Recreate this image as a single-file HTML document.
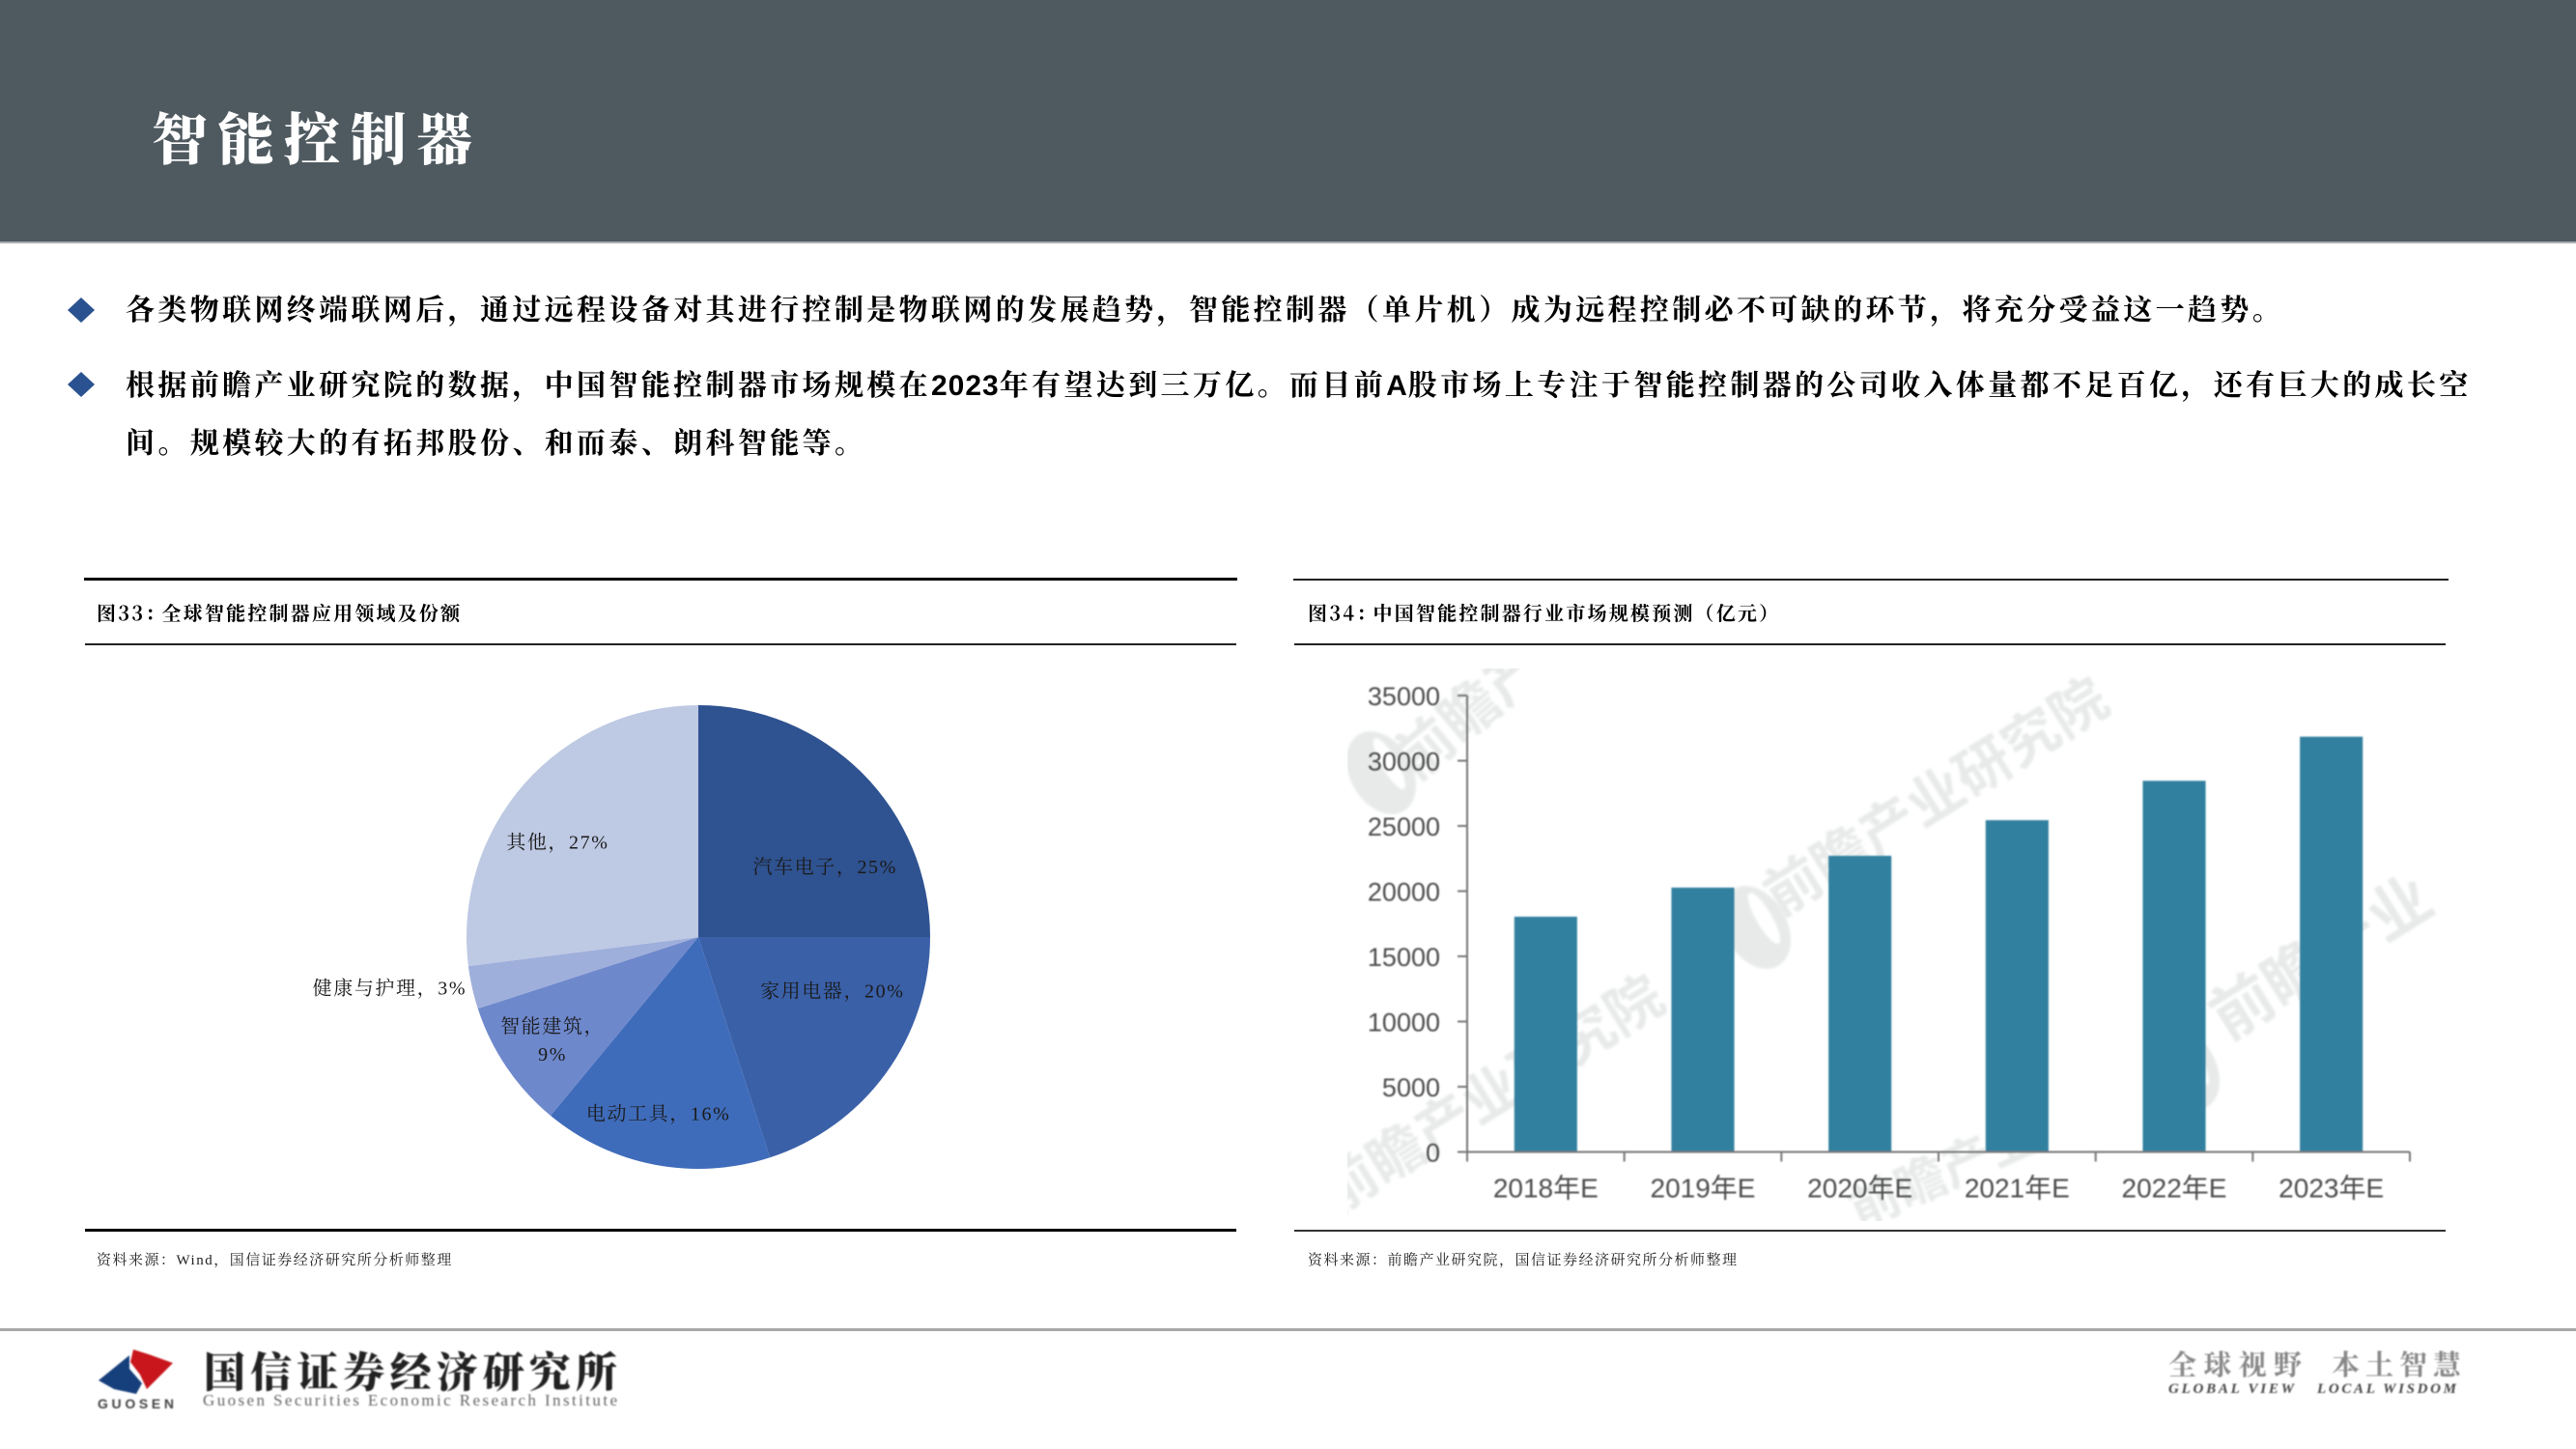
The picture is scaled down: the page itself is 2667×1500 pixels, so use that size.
<!DOCTYPE html>
<html lang="zh-CN">
<head>
<meta charset="utf-8">
<title>智能控制器</title>
<style>
html,body{margin:0;padding:0;background:#fff;}
#page{position:relative;width:2667px;height:1500px;overflow:hidden;background:#fff;font-family:"Liberation Serif","Noto Serif CJK SC",serif;color:#000;}
.abs{position:absolute;white-space:nowrap;line-height:1;}
.rule{position:absolute;background:#000;}
.body-line{font-size:30px;letter-spacing:3.36px;font-weight:700;font-family:"Noto Serif CJK SC",serif;}
.body-line b{font-family:"Liberation Sans",sans-serif;letter-spacing:1px;font-weight:700;}
.cap{font-size:20px;letter-spacing:2.2px;font-weight:700;font-family:"Noto Serif CJK SC",serif;}
.cap span{margin-right:-5px;}
.src{font-size:15px;letter-spacing:1.5px;color:#222;font-family:"Liberation Serif","Noto Serif CJK SC",serif;}
svg text{font-family:"Liberation Serif","Noto Serif CJK SC",serif;}
svg text.wm{font-family:"Noto Sans CJK SC",sans-serif;font-weight:700;}
</style>
</head>
<body>
<div id="page">
  <div class="abs" style="left:0;top:0;width:2667px;height:250px;background:#4f5a60;border-bottom:2px solid #a9aeb0;"></div>
  <div class="abs" style="left:157px;top:111px;font-size:58px;letter-spacing:10.5px;color:#fff;font-weight:900;font-family:'Noto Serif CJK SC',serif;">智能控制器</div>

  <svg class="abs" style="left:0;top:0" width="200" height="450">
    <polygon points="84,308 98,321 84,334 70,321" fill="#2a5290"/>
    <polygon points="84,385 98,398 84,411 70,398" fill="#2a5290"/>
  </svg>
  <div class="abs body-line" style="left:130px;top:303px;">各类物联网终端联网后，通过远程设备对其进行控制是物联网的发展趋势，智能控制器（单片机）成为远程控制必不可缺的环节，将充分受益这一趋势。</div>
  <div class="abs body-line" style="left:130px;top:381px;">根据前瞻产业研究院的数据，中国智能控制器市场规模在<b>2023</b>年有望达到三万亿。而目前<b>A</b>股市场上专注于智能控制器的公司收入体量都不足百亿，还有巨大的成长空</div>
  <div class="abs body-line" style="left:130px;top:441px;">间。规模较大的有拓邦股份、和而泰、朗科智能等。</div>

  <div class="rule" style="left:87px;top:598px;width:1194px;height:3px;"></div>
  <div class="abs cap" style="left:100px;top:624px;"><span>图33：</span>全球智能控制器应用领域及份额</div>
  <div class="rule" style="left:88px;top:666px;width:1192px;height:1.5px;background:#222;"></div>
  <svg class="abs" id="pie-chart" style="left:88px;top:670px" width="1190" height="600"></svg>
  <div class="rule" style="left:88px;top:1272px;width:1192px;height:2.5px;"></div>
  <div class="abs src" style="left:100px;top:1298px;">资料来源：Wind，国信证券经济研究所分析师整理</div>

  <div class="rule" style="left:1339px;top:599px;width:1196px;height:2px;background:#222;"></div>
  <div class="abs cap" style="left:1354px;top:624px;"><span>图34：</span>中国智能控制器行业市场规模预测（亿元）</div>
  <div class="rule" style="left:1340px;top:666px;width:1192px;height:1.5px;background:#222;"></div>
  <svg class="abs" id="bar-chart" style="left:1340px;top:670px" width="1192" height="600">
    <defs>
      <filter id="soft"><feGaussianBlur stdDeviation="0.7"/></filter>
      <filter id="softer"><feGaussianBlur stdDeviation="1.2"/></filter>
      <clipPath id="wm-clip"><rect x="55" y="22" width="1128" height="572"/></clipPath>
    </defs>
    <g clip-path="url(#wm-clip)"><g id="watermarks" fill="#e8eaea" filter="url(#softer)"></g></g>
    <g id="bar-marks" filter="url(#soft)"></g>
  </svg>
  <div class="rule" style="left:1340px;top:1273px;width:1192px;height:1.5px;background:#333;"></div>
  <div class="abs src" style="left:1354px;top:1298px;">资料来源：前瞻产业研究院，国信证券经济研究所分析师整理</div>

  <div class="abs" style="left:0;top:1375px;width:2667px;height:3px;background:#a8a8a8;"></div>
  <svg class="abs" style="left:0;top:1380px" width="700" height="100">
    <g filter="url(#soft)">
      <polygon points="134,23 102,49 118,58 141,63 147,52 134,37" fill="#123f7c"/>
      <polygon points="138,17 154,22 179,31 152,58 145,43 135,30" fill="#c8141f"/>
      <text x="101" y="78" font-size="14" font-weight="700" textLength="79" style="font-family:'Liberation Sans',sans-serif" fill="#444">GUOSEN</text>
      <text x="211" y="56" font-size="43" font-weight="900" textLength="428" fill="#222" style="font-family:'Noto Serif CJK SC',serif">国信证券经济研究所</text>
      <text x="210" y="75" font-size="17" textLength="429" fill="#666">Guosen Securities Economic Research Institute</text>
    </g>
  </svg>
  <svg class="abs" style="left:2200px;top:1390px" width="467" height="70">
    <g filter="url(#soft)">
      <text x="45" y="33" font-size="29" font-weight="700" textLength="138" fill="#888" style="font-family:'Noto Serif CJK SC',serif">全球视野</text>
      <text x="214" y="33" font-size="29" font-weight="700" textLength="134" fill="#888" style="font-family:'Noto Serif CJK SC',serif">本土智慧</text>
      <text x="45" y="52" font-size="15" font-weight="700" font-style="italic" textLength="130" fill="#444">GLOBAL VIEW</text>
      <text x="199" y="52" font-size="15" font-weight="700" font-style="italic" textLength="144" fill="#444">LOCAL WISDOM</text>
    </g>
  </svg>
</div>

<script>
var pieCategories = ['汽车电子', '家用电器', '电动工具', '智能建筑', '健康与护理', '其他'];
var pieValues = [25, 20, 16, 9, 3, 27];
var barCategories = ['2018年E', '2019年E', '2020年E', '2021年E', '2022年E', '2023年E'];
var barValues = [18040, 20270, 22710, 25440, 28460, 31840];
var yTickLabels = [0, 5000, 10000, 15000, 20000, 25000, 30000, 35000];

var SVG_NS = 'http://www.w3.org/2000/svg';
function mk(parent, tag, attrs, text) {
  var el = document.createElementNS(SVG_NS, tag);
  for (var k in attrs) el.setAttribute(k, attrs[k]);
  if (text !== undefined) el.textContent = text;
  parent.appendChild(el);
  return el;
}

/* Pie chart */
(function () {
  var svg = document.getElementById('pie-chart');
  var cx = 723 - 88, cy = 970 - 670, r = 240;
  var fills = ['#2f5290', '#3a60a8', '#3f6cba', '#6e88cc', '#9fafdb', '#bec9e3'];
  /* layout-only label nudges from the default anchor, per slice */
  var nudgeX = [9, -1, -9, -8, -151, -16];
  var nudgeY = [49, -46, 13, 9, 15, 16];
  var total = pieValues.reduce(function (a, b) { return a + b; }, 0);
  function angle(v) { return v / total * 2 * Math.PI; }
  function px(a, rad) { return cx + rad * Math.sin(a); }
  function py(a, rad) { return cy - rad * Math.cos(a); }
  var acc = 0;
  pieValues.forEach(function (v, i) {
    var a0 = angle(acc), a1 = angle(acc + v);
    var large = (a1 - a0) > Math.PI ? 1 : 0;
    var d = 'M' + cx + ' ' + cy + 'L' + px(a0, r) + ' ' + py(a0, r) +
      'A' + r + ' ' + r + ' 0 ' + large + ' 1 ' + px(a1, r) + ' ' + py(a1, r) + 'Z';
    var slice = mk(svg, 'path', { d: d, fill: fills[i % fills.length] });
    
    
    acc += v;
  });
  acc = 0;
  pieValues.forEach(function (v, i) {
    var mid = angle(acc + v / 2);
    var lx = px(mid, r * 0.72) + nudgeX[i], ly = py(mid, r * 0.72) + nudgeY[i];
    acc += v;
    var wrap = pieCategories[i].length === 4 && i === 3;
    var attrs = { 'text-anchor': 'middle', 'font-size': 20, fill: '#1a1a1a', 'letter-spacing': 1.6, x: lx };
    var pct = v + '%';
    if (wrap) {
      var l1 = mk(svg, 'text', Object.assign({ y: ly - 7 }, attrs), pieCategories[i] + '，');
      
      
      var l2 = mk(svg, 'text', Object.assign({ y: ly + 22 }, attrs), pct);
      
      
    } else {
      var t = mk(svg, 'text', Object.assign({ y: ly + 7 }, attrs), pieCategories[i] + '，' + pct);
      
      
    }
  });
})();

/* Bar chart */
(function () {
  var g = document.getElementById('bar-marks');
  var wm = document.getElementById('watermarks');
  var ox = 1340, oy = 670;
  var x0 = 1519 - ox, x1 = 2495 - ox, y0 = 1192.5 - oy, yTop = 720 - oy;
  var yMax = yTickLabels[yTickLabels.length - 1];
  function yScale(v) { return y0 - (v / yMax) * (y0 - yTop); }
  var band = (x1 - x0) / barCategories.length;
  function xCenter(i) { return x0 + band * (i + 0.5); }
  var barWidth = band * 0.4;

  /* Watermarks: decorative background text */
  var marks = [
    ['前瞻产', 195, 82, -40, 60],
    ['前瞻产业研究院', 675, 172, -32, 58],
    ['前瞻产业研究院', 215, 480, -32, 58],
    ['前瞻产业', 1075, 340, -32, 64],
    ['前瞻产业', 680, 560, -24, 52]
  ];
  marks.forEach(function (m, i) {
    var t = mk(wm, 'text', { 'class': 'wm', 'text-anchor': 'middle', 'font-size': m[4], transform: 'translate(' + m[1] + ',' + m[2] + ') rotate(' + m[3] + ')' }, m[0]);
    
    
  });
  [[90, 130], [478, 290], [922, 436]].forEach(function (c, i) {
    var o = mk(wm, 'ellipse', { cx: c[0], cy: c[1], rx: 32, ry: 46, transform: 'rotate(-30 ' + c[0] + ' ' + c[1] + ')' });
    
    
    var n = mk(wm, 'ellipse', { cx: c[0] + 12, cy: c[1] - 4, rx: 8, ry: 30, fill: '#fff', transform: 'rotate(-30 ' + c[0] + ' ' + c[1] + ')' });
    
    
  });

  barValues.forEach(function (v, i) {
    var y = yScale(v);
    var b = mk(g, 'rect', { x: xCenter(i) - barWidth / 2, y: y, width: barWidth, height: y0 - y, fill: '#31809f' });
    
    
  });
  var ya = mk(g, 'line', { x1: x0, x2: x0, y1: yTop, y2: y0 + 10, stroke: '#777', 'stroke-width': 2 });
  
  
  var xa = mk(g, 'line', { x1: x0 - 10, x2: x1, y1: y0, y2: y0, stroke: '#777', 'stroke-width': 2 });
  
  
  yTickLabels.forEach(function (v) {
    var y = yScale(v);
    var tk = mk(g, 'line', { x1: x0 - 10, x2: x0, y1: y, y2: y, stroke: '#777', 'stroke-width': 2 });
    
    
    var lb = mk(g, 'text', { x: x0 - 28, y: y + 10, 'text-anchor': 'end', 'font-size': 27, fill: '#4d4d4d', style: "font-family:'Liberation Sans',sans-serif" }, String(v));
    
    
  });
  barCategories.forEach(function (c, i) {
    var tk = mk(g, 'line', { x1: x0 + band * (i + 1), x2: x0 + band * (i + 1), y1: y0, y2: y0 + 10, stroke: '#777', 'stroke-width': 2 });
    
    
    var lb = mk(g, 'text', { x: xCenter(i), y: y0 + 47, 'text-anchor': 'middle', 'font-size': 28, fill: '#4d4d4d', style: "font-family:'Liberation Sans','Noto Sans CJK SC',sans-serif" }, c);
    
    
  });
})();
</script>
</body>
</html>
